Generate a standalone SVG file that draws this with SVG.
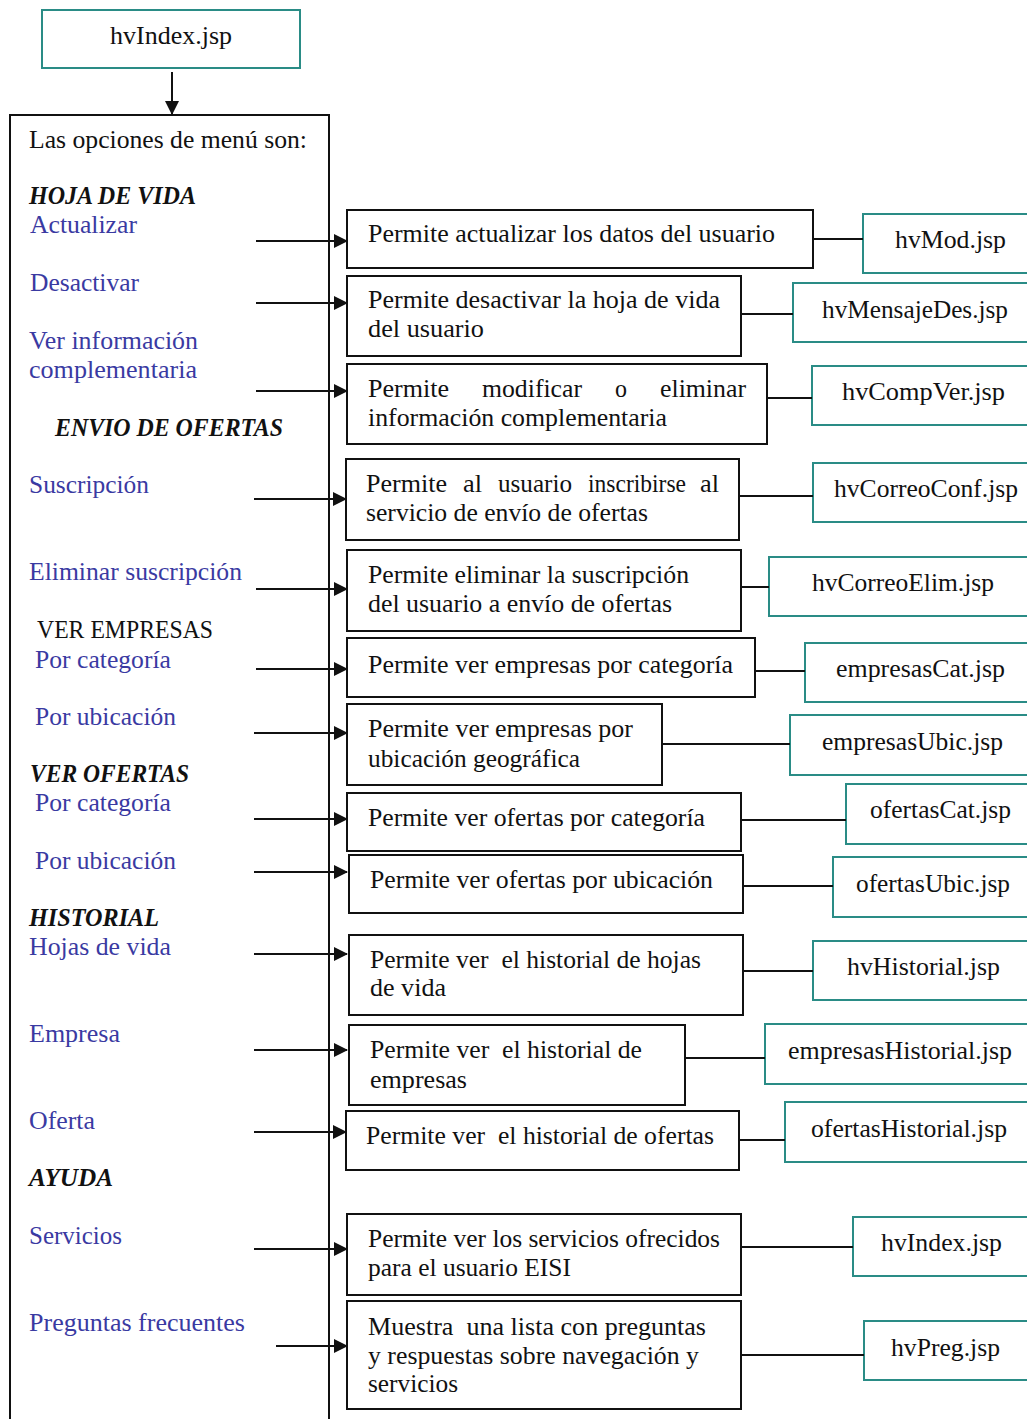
<svg xmlns="http://www.w3.org/2000/svg" width="1027" height="1419" viewBox="0 0 1027 1419">
<style>
text{font-family:"Liberation Serif","Times New Roman",serif;font-size:24.5px;fill:#111}
.b{fill:#3a3aa2}
.h{font-weight:bold;font-style:italic}
.desc{fill:#fff;stroke:#111;stroke-width:2}
.page{fill:#fff;stroke:#2a8c86;stroke-width:2}
.c{stroke:#111;stroke-width:2;fill:none}
</style>
<defs>
<marker id="ah" markerWidth="14" markerHeight="14" refX="13" refY="7" orient="auto" markerUnits="userSpaceOnUse">
<path d="M0,0 L14,7 L0,14 Z" fill="#111"/>
</marker>
</defs>

<g id="n-top">
<rect class="page" x="42" y="10" width="258" height="58"/>
<text x="110" y="44" textLength="122" lengthAdjust="spacingAndGlyphs">hvIndex.jsp</text>
</g>

<g id="n-menu">
<rect x="10" y="115" width="319" height="1320" fill="#fff" stroke="#111" stroke-width="2"/>
<text x="29" y="148" textLength="278" lengthAdjust="spacingAndGlyphs">Las opciones de menú son:</text>
<text class="h" x="29" y="204" textLength="167" lengthAdjust="spacingAndGlyphs">HOJA DE VIDA</text>
<text class="b" x="30" y="233" textLength="107" lengthAdjust="spacingAndGlyphs">Actualizar</text>
<text class="b" x="30" y="291" textLength="109" lengthAdjust="spacingAndGlyphs">Desactivar</text>
<text class="b" x="29" y="349" textLength="169" lengthAdjust="spacingAndGlyphs">Ver información</text>
<text class="b" x="29" y="378" textLength="168" lengthAdjust="spacingAndGlyphs">complementaria</text>
<text class="h" x="55" y="436" textLength="228" lengthAdjust="spacingAndGlyphs">ENVIO DE OFERTAS</text>
<text class="b" x="29" y="493" textLength="120" lengthAdjust="spacingAndGlyphs">Suscripción</text>
<text class="b" x="29" y="580" textLength="213" lengthAdjust="spacingAndGlyphs">Eliminar suscripción</text>
<text x="37" y="638" textLength="176" lengthAdjust="spacingAndGlyphs">VER EMPRESAS</text>
<text class="b" x="35" y="668" textLength="136" lengthAdjust="spacingAndGlyphs">Por categoría</text>
<text class="b" x="35" y="725" textLength="141" lengthAdjust="spacingAndGlyphs">Por ubicación</text>
<text class="h" x="30" y="782" textLength="159" lengthAdjust="spacingAndGlyphs">VER OFERTAS</text>
<text class="b" x="35" y="811" textLength="136" lengthAdjust="spacingAndGlyphs">Por categoría</text>
<text class="b" x="35" y="869" textLength="141" lengthAdjust="spacingAndGlyphs">Por ubicación</text>
<text class="h" x="29" y="926" textLength="130" lengthAdjust="spacingAndGlyphs">HISTORIAL</text>
<text class="b" x="29" y="955" textLength="142" lengthAdjust="spacingAndGlyphs">Hojas de vida</text>
<text class="b" x="29" y="1042" textLength="91" lengthAdjust="spacingAndGlyphs">Empresa</text>
<text class="b" x="29" y="1129" textLength="66" lengthAdjust="spacingAndGlyphs">Oferta</text>
<text class="h" x="29" y="1186" textLength="84" lengthAdjust="spacingAndGlyphs">AYUDA</text>
<text class="b" x="29" y="1244" textLength="93" lengthAdjust="spacingAndGlyphs">Servicios</text>
<text class="b" x="29" y="1331" textLength="216" lengthAdjust="spacingAndGlyphs">Preguntas frecuentes</text>
</g>

<g id="n-d1"><rect class="desc" x="347" y="210" width="466" height="58"/>
<text x="368" y="242" textLength="407" lengthAdjust="spacingAndGlyphs">Permite actualizar los datos del usuario</text></g>
<g id="n-d2"><rect class="desc" x="347" y="276" width="394" height="80"/>
<text x="368" y="308" textLength="352" lengthAdjust="spacingAndGlyphs">Permite desactivar la hoja de vida</text>
<text x="368" y="337" textLength="116" lengthAdjust="spacingAndGlyphs">del usuario</text></g>
<g id="n-d3"><rect class="desc" x="347" y="364" width="420" height="80"/>
<text y="397"><tspan x="368" textLength="81" lengthAdjust="spacingAndGlyphs">Permite</tspan><tspan x="482" textLength="100" lengthAdjust="spacingAndGlyphs">modificar</tspan><tspan x="615" textLength="12" lengthAdjust="spacingAndGlyphs">o</tspan><tspan x="660" textLength="86" lengthAdjust="spacingAndGlyphs">eliminar</tspan></text>
<text x="368" y="426" textLength="299" lengthAdjust="spacingAndGlyphs">información complementaria</text></g>
<g id="n-d4"><rect class="desc" x="346" y="459" width="393" height="81"/>
<text y="492"><tspan x="366" textLength="81" lengthAdjust="spacingAndGlyphs">Permite</tspan><tspan x="463" textLength="19" lengthAdjust="spacingAndGlyphs">al</tspan><tspan x="498" textLength="74" lengthAdjust="spacingAndGlyphs">usuario</tspan><tspan x="588" textLength="98" lengthAdjust="spacingAndGlyphs">inscribirse</tspan><tspan x="700" textLength="19" lengthAdjust="spacingAndGlyphs">al</tspan></text>
<text x="366" y="521" textLength="282" lengthAdjust="spacingAndGlyphs">servicio de envío de ofertas</text></g>
<g id="n-d5"><rect class="desc" x="347" y="550" width="394" height="81"/>
<text x="368" y="583" textLength="321" lengthAdjust="spacingAndGlyphs">Permite eliminar la suscripción</text>
<text x="368" y="612" textLength="304" lengthAdjust="spacingAndGlyphs">del usuario a envío de ofertas</text></g>
<g id="n-d6"><rect class="desc" x="347" y="638" width="408" height="59"/>
<text x="368" y="673" textLength="365" lengthAdjust="spacingAndGlyphs">Permite ver empresas por categoría</text></g>
<g id="n-d7"><rect class="desc" x="347" y="704" width="315" height="81"/>
<text x="368" y="737" textLength="265" lengthAdjust="spacingAndGlyphs">Permite ver empresas por</text>
<text x="368" y="767" textLength="212" lengthAdjust="spacingAndGlyphs">ubicación geográfica</text></g>
<g id="n-d8"><rect class="desc" x="347" y="793" width="394" height="58"/>
<text x="368" y="826" textLength="337" lengthAdjust="spacingAndGlyphs">Permite ver ofertas por categoría</text></g>
<g id="n-d9"><rect class="desc" x="349" y="855" width="394" height="58"/>
<text x="370" y="888" textLength="343" lengthAdjust="spacingAndGlyphs">Permite ver ofertas por ubicación</text></g>
<g id="n-d10"><rect class="desc" x="349" y="935" width="394" height="80"/>
<text x="370" y="968" xml:space="preserve" textLength="331" lengthAdjust="spacingAndGlyphs">Permite ver  el historial de hojas</text>
<text x="370" y="996" textLength="76" lengthAdjust="spacingAndGlyphs">de vida</text></g>
<g id="n-d11"><rect class="desc" x="349" y="1025" width="336" height="80"/>
<text x="370" y="1058" xml:space="preserve" textLength="272" lengthAdjust="spacingAndGlyphs">Permite ver  el historial de</text>
<text x="370" y="1088" textLength="97" lengthAdjust="spacingAndGlyphs">empresas</text></g>
<g id="n-d12"><rect class="desc" x="346" y="1111" width="393" height="59"/>
<text x="366" y="1144" xml:space="preserve" textLength="348" lengthAdjust="spacingAndGlyphs">Permite ver  el historial de ofertas</text></g>
<g id="n-d13"><rect class="desc" x="347" y="1214" width="394" height="81"/>
<text x="368" y="1247" textLength="352" lengthAdjust="spacingAndGlyphs">Permite ver los servicios ofrecidos</text>
<text x="368" y="1276" textLength="203" lengthAdjust="spacingAndGlyphs">para el usuario EISI</text></g>
<g id="n-d14"><rect class="desc" x="347" y="1301" width="394" height="108"/>
<text x="368" y="1335" xml:space="preserve" textLength="338" lengthAdjust="spacingAndGlyphs">Muestra  una lista con preguntas</text>
<text x="368" y="1364" textLength="331" lengthAdjust="spacingAndGlyphs">y respuestas sobre navegación y</text>
<text x="368" y="1392" textLength="90" lengthAdjust="spacingAndGlyphs">servicios</text></g>

<g id="n-p1"><rect class="page" x="863" y="214" width="180" height="59"/><text x="895" y="248" textLength="111" lengthAdjust="spacingAndGlyphs">hvMod.jsp</text></g>
<g id="n-p2"><rect class="page" x="793" y="283" width="250" height="59"/><text x="822" y="318" textLength="186" lengthAdjust="spacingAndGlyphs">hvMensajeDes.jsp</text></g>
<g id="n-p3"><rect class="page" x="812" y="366" width="231" height="59"/><text x="842" y="400" textLength="163" lengthAdjust="spacingAndGlyphs">hvCompVer.jsp</text></g>
<g id="n-p4"><rect class="page" x="813" y="463" width="230" height="59"/><text x="834" y="497" textLength="184" lengthAdjust="spacingAndGlyphs">hvCorreoConf.jsp</text></g>
<g id="n-p5"><rect class="page" x="769" y="557" width="274" height="59"/><text x="812" y="591" textLength="182" lengthAdjust="spacingAndGlyphs">hvCorreoElim.jsp</text></g>
<g id="n-p6"><rect class="page" x="805" y="643" width="238" height="59"/><text x="836" y="677" textLength="169" lengthAdjust="spacingAndGlyphs">empresasCat.jsp</text></g>
<g id="n-p7"><rect class="page" x="790" y="715" width="253" height="60"/><text x="822" y="750" textLength="181" lengthAdjust="spacingAndGlyphs">empresasUbic.jsp</text></g>
<g id="n-p8"><rect class="page" x="846" y="784" width="197" height="60"/><text x="870" y="818" textLength="141" lengthAdjust="spacingAndGlyphs">ofertasCat.jsp</text></g>
<g id="n-p9"><rect class="page" x="833" y="857" width="210" height="60"/><text x="856" y="892" textLength="154" lengthAdjust="spacingAndGlyphs">ofertasUbic.jsp</text></g>
<g id="n-p10"><rect class="page" x="813" y="941" width="230" height="59"/><text x="847" y="975" textLength="153" lengthAdjust="spacingAndGlyphs">hvHistorial.jsp</text></g>
<g id="n-p11"><rect class="page" x="765" y="1024" width="278" height="60"/><text x="788" y="1059" textLength="224" lengthAdjust="spacingAndGlyphs">empresasHistorial.jsp</text></g>
<g id="n-p12"><rect class="page" x="785" y="1102" width="258" height="60"/><text x="811" y="1137" textLength="196" lengthAdjust="spacingAndGlyphs">ofertasHistorial.jsp</text></g>
<g id="n-p13"><rect class="page" x="853" y="1217" width="190" height="59"/><text x="881" y="1251" textLength="121" lengthAdjust="spacingAndGlyphs">hvIndex.jsp</text></g>
<g id="n-p14"><rect class="page" x="864" y="1321" width="179" height="59"/><text x="891" y="1356" textLength="109" lengthAdjust="spacingAndGlyphs">hvPreg.jsp</text></g>

<g id="connectors">
<line class="c" x1="172" y1="72" x2="172" y2="114" marker-end="url(#ah)"/>
<line class="c" x1="256" y1="241" x2="347" y2="241" marker-end="url(#ah)"/>
<line class="c" x1="256" y1="303" x2="347" y2="303" marker-end="url(#ah)"/>
<line class="c" x1="256" y1="391" x2="347" y2="391" marker-end="url(#ah)"/>
<line class="c" x1="254" y1="499" x2="346" y2="499" marker-end="url(#ah)"/>
<line class="c" x1="256" y1="589" x2="347" y2="589" marker-end="url(#ah)"/>
<line class="c" x1="256" y1="669" x2="347" y2="669" marker-end="url(#ah)"/>
<line class="c" x1="254" y1="733" x2="347" y2="733" marker-end="url(#ah)"/>
<line class="c" x1="254" y1="819" x2="347" y2="819" marker-end="url(#ah)"/>
<line class="c" x1="254" y1="872" x2="347" y2="872" marker-end="url(#ah)"/>
<line class="c" x1="254" y1="954" x2="347" y2="954" marker-end="url(#ah)"/>
<line class="c" x1="254" y1="1050" x2="347" y2="1050" marker-end="url(#ah)"/>
<line class="c" x1="254" y1="1132" x2="346" y2="1132" marker-end="url(#ah)"/>
<line class="c" x1="254" y1="1249" x2="347" y2="1249" marker-end="url(#ah)"/>
<line class="c" x1="276" y1="1346" x2="347" y2="1346" marker-end="url(#ah)"/>
<line class="c" x1="813" y1="239" x2="863" y2="239"/>
<line class="c" x1="741" y1="314" x2="793" y2="314"/>
<line class="c" x1="767" y1="398" x2="812" y2="398"/>
<line class="c" x1="739" y1="496" x2="813" y2="496"/>
<line class="c" x1="741" y1="587" x2="769" y2="587"/>
<line class="c" x1="755" y1="671" x2="805" y2="671"/>
<line class="c" x1="662" y1="744" x2="790" y2="744"/>
<line class="c" x1="741" y1="820" x2="846" y2="820"/>
<line class="c" x1="743" y1="886" x2="833" y2="886"/>
<line class="c" x1="743" y1="971" x2="813" y2="971"/>
<line class="c" x1="685" y1="1058" x2="765" y2="1058"/>
<line class="c" x1="739" y1="1140" x2="785" y2="1140"/>
<line class="c" x1="741" y1="1247" x2="853" y2="1247"/>
<line class="c" x1="741" y1="1355" x2="864" y2="1355"/>
</g>
</svg>
